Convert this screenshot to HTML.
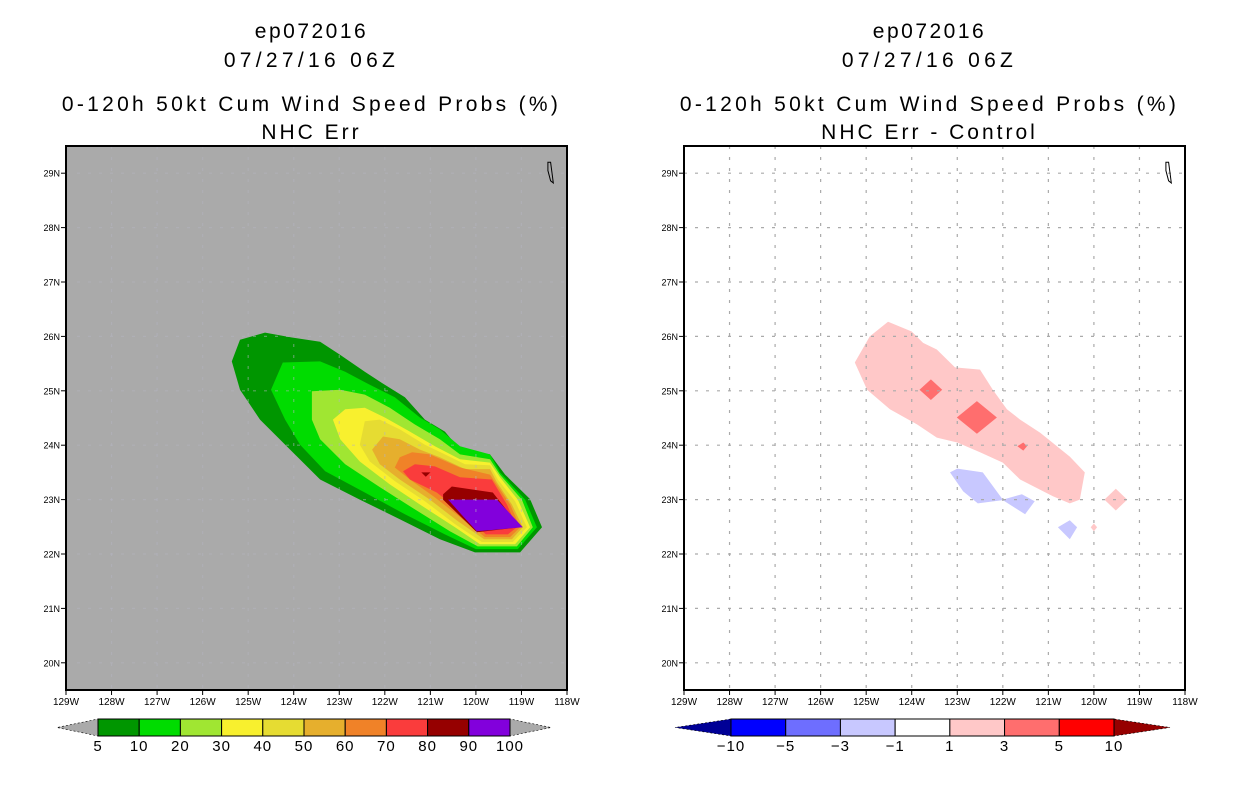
<!DOCTYPE html>
<html><head><meta charset="utf-8"><style>
html,body{margin:0;padding:0;background:#fff;width:1236px;height:800px;overflow:hidden}
svg{display:block}
text{font-family:"Liberation Sans",sans-serif;fill:#000}
</style></head><body>
<svg id="c" width="1236" height="800" viewBox="0 0 1236 800"></svg>
<script>
// ---- data ----
const lonTicks=[-129,-128,-127,-126,-125,-124,-123,-122,-121,-120,-119,-118];
const latTicks=[29,28,27,26,25,24,23,22,21,20];
const probLevels=[5,10,20,30,40,50,60,70,80,90,100];
const probColors=["#009600","#00dc00","#a0e632","#f8f02e","#e6dc32","#e6af2d","#f08228","#fa3c3c","#960000","#8200dc"];
const diffLevels=[-10,-5,-3,-1,1,3,5,10];
const diffColors=["#000096","#0000ff","#6e6eff","#c8c8ff","#ffffff","#ffc8c8","#ff6e6e","#ff0000","#960000"];
const prob5=[[-125.36,25.54],[-125.18,25.94],[-124.63,26.07],[-124.04,25.98],[-123.42,25.9],[-122.98,25.66],[-122.44,25.35],[-122.0,25.11],[-121.56,24.88],[-121.12,24.47],[-120.68,24.25],[-120.35,23.92],[-119.69,23.83],[-119.36,23.46],[-118.81,23.01],[-118.55,22.49],[-119.03,22.03],[-120.02,22.03],[-120.79,22.27],[-121.67,22.64],[-122.55,23.0],[-123.42,23.37],[-124.08,23.92],[-124.74,24.47],[-125.18,25.02]];
const prob10=[[-124.5,25.02],[-124.24,25.52],[-123.42,25.54],[-122.87,25.35],[-122.33,25.11],[-121.78,24.88],[-121.23,24.51],[-120.79,24.29],[-120.35,23.98],[-119.69,23.83],[-119.47,23.5],[-118.92,23.0],[-118.66,22.49],[-119.08,22.09],[-120.0,22.09],[-120.68,22.36],[-121.56,22.73],[-122.44,23.13],[-123.31,23.52],[-123.86,24.01],[-124.19,24.47]];
const prob20=[[-123.6,24.99],[-122.98,25.02],[-122.44,24.93],[-121.89,24.69],[-121.34,24.38],[-120.79,24.11],[-120.35,23.83],[-119.69,23.74],[-119.47,23.46],[-118.99,23.0],[-118.75,22.49],[-119.1,22.14],[-119.96,22.14],[-120.57,22.42],[-121.34,22.82],[-122.11,23.23],[-122.87,23.65],[-123.42,24.11],[-123.6,24.47]];
const prob30=[[-123.14,24.47],[-122.87,24.66],[-122.44,24.69],[-122.0,24.51],[-121.45,24.25],[-120.9,23.98],[-120.35,23.74],[-119.69,23.68],[-119.47,23.41],[-119.08,23.0],[-118.81,22.49],[-119.14,22.18],[-119.91,22.18],[-120.46,22.49],[-121.23,22.91],[-121.89,23.28],[-122.55,23.7],[-122.98,24.11]];
const prob40=[[-122.55,24.01],[-122.44,24.44],[-122.11,24.47],[-121.67,24.29],[-121.12,24.01],[-120.68,23.83],[-120.24,23.65],[-119.69,23.63],[-119.52,23.37],[-119.14,22.97],[-118.88,22.49],[-119.19,22.22],[-119.87,22.22],[-120.46,22.55],[-121.12,22.97],[-121.78,23.34],[-122.33,23.7]];
const prob50=[[-122.28,23.92],[-122.04,24.16],[-121.67,24.11],[-121.23,23.92],[-120.79,23.78],[-120.24,23.56],[-119.69,23.56],[-119.54,23.32],[-119.21,22.91],[-118.97,22.49],[-119.21,22.27],[-119.82,22.27],[-120.39,22.6],[-121.01,23.0],[-121.67,23.37],[-122.11,23.65]];
const prob60=[[-121.67,23.78],[-121.4,23.87],[-121.01,23.83],[-120.35,23.59],[-119.69,23.46],[-119.25,22.91],[-119.03,22.49],[-119.25,22.31],[-119.8,22.31],[-120.35,22.68],[-120.9,23.04],[-121.45,23.37],[-121.78,23.59]];
const prob70=[[-121.6,23.52],[-121.34,23.65],[-120.9,23.61],[-120.35,23.41],[-119.65,23.37],[-119.32,22.91],[-119.1,22.49],[-119.3,22.36],[-119.78,22.36],[-120.31,22.77],[-120.86,23.13],[-121.45,23.37]];
const prob80=[[-120.72,23.1],[-120.53,23.24],[-119.63,23.13],[-119.03,22.49],[-119.98,22.4],[-120.72,23.0]];
const prob80b=[[-121.2,23.5],[-121.0,23.5],[-121.1,23.42]];
const prob90=[[-120.61,23.0],[-119.54,23.0],[-118.97,22.49],[-119.98,22.42],[-120.28,22.69]];
const diffPos1=[[-125.25,25.52],[-124.92,26.0],[-124.52,26.27],[-124.0,26.09],[-123.75,25.88],[-123.45,25.76],[-123.05,25.43],[-122.5,25.39],[-122.22,25.02],[-121.91,24.66],[-121.62,24.47],[-121.18,24.23],[-120.53,23.79],[-120.2,23.5],[-120.31,23.0],[-120.53,22.93],[-120.9,23.06],[-121.62,23.37],[-122.0,23.68],[-122.5,23.87],[-123.0,24.05],[-123.45,24.14],[-123.88,24.38],[-124.48,24.66],[-124.98,25.02]];
const diffPos1b=[[-119.52,23.2],[-119.27,23.0],[-119.52,22.8],[-119.77,23.0]];
const diffPos1c=[[-120.0,22.56],[-119.93,22.49],[-120.0,22.42],[-120.07,22.49]];
const diffPos3a=[[-123.58,25.21],[-123.33,25.02],[-123.58,24.83],[-123.83,25.02]];
const diffPos3b=[[-122.57,24.81],[-122.13,24.51],[-122.57,24.21],[-123.01,24.51]];
const diffPos3c=[[-121.55,24.05],[-121.47,23.98],[-121.55,23.9],[-121.68,23.98]];
const diffNeg1=[[-123.16,23.5],[-123.0,23.57],[-122.44,23.5],[-122.0,23.0],[-121.58,23.1],[-121.3,22.97],[-121.51,22.73],[-122.0,22.99],[-122.55,22.93],[-122.87,23.15]];
const diffNeg1b=[[-120.79,22.49],[-120.53,22.62],[-120.37,22.49],[-120.53,22.27]];
const island=[[-118.42,29.2],[-118.36,29.2],[-118.32,28.95],[-118.3,28.82],[-118.36,28.86],[-118.42,29.05]];

const NS="http://www.w3.org/2000/svg";
const svg=document.getElementById('c');
function mk(tag,attrs,parent){const e=document.createElementNS(NS,tag);for(const k in attrs)e.setAttribute(k,attrs[k]);(parent||svg).appendChild(e);return e;}
function txt(s,x,y,size,anchor,parent){const t=mk('text',{x:x,y:y,'font-size':size,'text-anchor':anchor||'middle'},parent);t.textContent=s;return t;}

function panel(x0,titleLines,bg,polys,grid,pname){
  const W=501,y0=146,H=544;
  const xs=lon=>x0+(lon+129)/11*W;
  const ys=lat=>y0+(29.5-lat)/10*H;
  const g=mk('g',{});
  
  
  const cx=x0+W/2-6;
  const t1=txt(titleLines[0],cx+1,38,21,'middle',g);t1.setAttribute('letter-spacing','2.5');
  
  const t2=txt(titleLines[1],cx+1,67,21,'middle',g);t2.setAttribute('letter-spacing','4.3');
  
  const t3=txt(titleLines[2],cx+1,111,21,'middle',g);t3.setAttribute('letter-spacing','3.3');
  
  const t4=txt(titleLines[3],cx+1,139,21,'middle',g);t4.setAttribute('letter-spacing','3');
  
  const bgr=mk('rect',{x:x0,y:y0,width:W,height:H,fill:bg},g);
  
  polys.forEach(p=>{
    const pl=mk('polygon',{points:p.pts.map(q=>xs(q[0]).toFixed(1)+','+ys(q[1]).toFixed(1)).join(' '),fill:p.c},g);
    
  });
  const gc=grid?'#aaa':'#b4b4c0';
  lonTicks.slice(1,-1).forEach(l=>{const ln=mk('line',{x1:xs(l),x2:xs(l),y1:y0,y2:y0+H,stroke:gc,'stroke-width':1.2,'stroke-dasharray':'3,8',opacity:grid?1:0.5},g);});
  latTicks.forEach(l=>{const ln=mk('line',{x1:x0,x2:x0+W,y1:ys(l),y2:ys(l),stroke:gc,'stroke-width':1.2,'stroke-dasharray':'3,8',opacity:grid?1:0.5},g);});
  const isl=mk('polygon',{points:island.map(q=>xs(q[0]).toFixed(1)+','+ys(q[1]).toFixed(1)).join(' '),fill:'none',stroke:'#000','stroke-width':1},g);
  
  const fr=mk('rect',{x:x0,y:y0,width:W,height:H,fill:'none',stroke:'#000','stroke-width':2},g);
  
  lonTicks.forEach(l=>{
    mk('line',{x1:xs(l),x2:xs(l),y1:y0+H,y2:y0+H+5,stroke:'#000'},g);
    const t=txt(Math.abs(l)+'W',xs(l),y0+H+15,10,'middle',g);
    
  });
  latTicks.forEach(l=>{
    mk('line',{x1:x0-5,x2:x0,y1:ys(l),y2:ys(l),stroke:'#000'},g);
    const t=txt(l+'N',x0-6,ys(l)+3.5,9,'end',g);
    
  });
}

panel(66,["ep072016","07/27/16 06Z","0-120h 50kt Cum Wind Speed Probs (%)","NHC Err"],"#aaaaaa",[
 {pts:prob5,c:probColors[0],n:'contour-5'},{pts:prob10,c:probColors[1],n:'contour-10'},
 {pts:prob20,c:probColors[2],n:'contour-20'},{pts:prob30,c:probColors[3],n:'contour-30'},
 {pts:prob40,c:probColors[4],n:'contour-40'},{pts:prob50,c:probColors[5],n:'contour-50'},
 {pts:prob60,c:probColors[6],n:'contour-60'},{pts:prob70,c:probColors[7],n:'contour-70'},
 {pts:prob80,c:probColors[8],n:'contour-80'},{pts:prob80b,c:probColors[8],n:'contour-80-spot'},
 {pts:prob90,c:probColors[9],n:'contour-90'}],false,'left-panel');

panel(684,["ep072016","07/27/16 06Z","0-120h 50kt Cum Wind Speed Probs (%)","NHC Err - Control"],"#ffffff",[
 {pts:diffPos1,c:diffColors[5],n:'diff-pos-1'},{pts:diffPos1b,c:diffColors[5],n:'diff-pos-1b'},
 {pts:diffPos1c,c:diffColors[5],n:'diff-pos-1c'},{pts:diffPos3a,c:diffColors[6],n:'diff-pos-3a'},
 {pts:diffPos3b,c:diffColors[6],n:'diff-pos-3b'},{pts:diffPos3c,c:diffColors[6],n:'diff-pos-3c'},
 {pts:diffNeg1,c:diffColors[3],n:'diff-neg-1'},{pts:diffNeg1b,c:diffColors[3],n:'diff-neg-1b'}],true,'right-panel');

function colorbar(xL,xR,levels,colors,lowC,highC,triW,name){
  const y=719,h=17,n=colors.length;
  const g=mk('g',{});
  
  const bw=(xR-xL)/n;
  const lt=mk('polygon',{points:`${xL},${y} ${xL},${y+h} ${xL-triW},${y+h/2}`,fill:lowC,stroke:'#000','stroke-width':0.6,'stroke-dasharray':'2,2'},g);
  
  const rt=mk('polygon',{points:`${xR},${y} ${xR},${y+h} ${xR+triW},${y+h/2}`,fill:highC,stroke:'#000','stroke-width':0.6,'stroke-dasharray':'2,2'},g);
  
  colors.forEach((c,i)=>{
    const r=mk('rect',{x:xL+i*bw,y:y,width:bw,height:h,fill:c,stroke:'#000','stroke-width':1},g);
    
  });
  levels.forEach((v,i)=>{
    const s=v<0?'\u2212'+Math.abs(v):String(v);
    const t=txt(s,xL+i*bw,y+h+15,15,'middle',g);
    t.setAttribute('letter-spacing','1');
    
  });
}
colorbar(98,510,probLevels,probColors,"#aaaaaa","#aaaaaa",41,'prob-colorbar');
colorbar(731,1114,diffLevels,diffColors.slice(1,8),diffColors[0],diffColors[8],56,'diff-colorbar');
</script>
</body></html>
